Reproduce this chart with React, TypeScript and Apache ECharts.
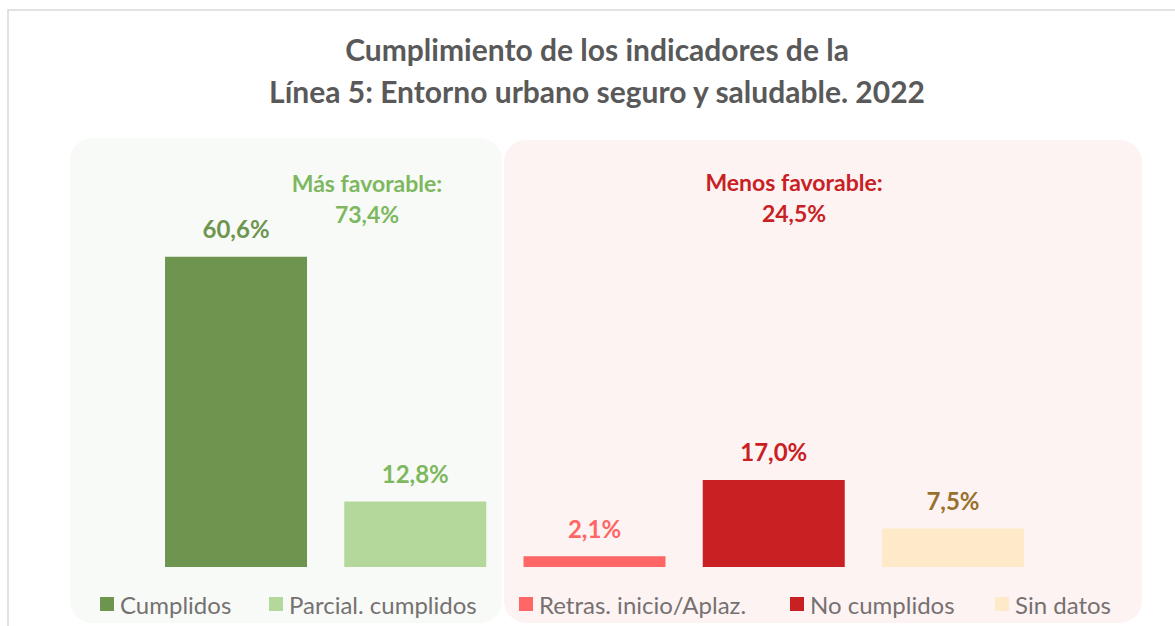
import React, { useEffect, useRef } from "react";
import * as echarts from "echarts";

const categories = ["Cumplidos", "Parcial. cumplidos", "Retras. inicio/Aplaz.", "No cumplidos", "Sin datos"];
const values = [60.6, 12.8, 2.1, 17.0, 7.5];
const barColors = ["#6E9550", "#B4D79B", "#FF6666", "#C82023", "#FEE9C9"];
const labelColors = ["#6E9550", "#7DB85F", "#FF6666", "#C82023", "#98712D"];
const legendLeft = [95, 264, 514, 785, 990];
const groupTitles = ["Más favorable:", "Menos favorable:"];
const groupValues = ["73,4%", "24,5%"];

const FONT = "Lato";

export default function App() {
  const ref = useRef<HTMLDivElement>(null);
  useEffect(() => {
    if (!ref.current) return;
    const chart = echarts.init(ref.current, undefined, { renderer: "svg" });
    const fmt = (v: number) => v.toFixed(1).replace(".", ",") + "%";
    const series = categories.map((name, i) => ({
      name,
      type: "bar",
      stack: "all",
      barWidth: 142,
      itemStyle: { color: barColors[i] },
      label: {
        show: true,
        position: "top",
        distance: 16,
        formatter: (p: any) => fmt(p.value),
        color: labelColors[i],
        fontFamily: FONT,
        fontWeight: "bold",
        fontSize: 24,
      },
      data: categories.map((_, j) => (j === i ? values[i] : "-")),
    }));
    chart.setOption({
      animation: false,
      backgroundColor: "#ffffff",
      title: {
        text: "Cumplimiento de los indicadores de la\nLínea 5: Entorno urbano seguro y saludable. 2022",
        left: 592,
        textAlign: "center",
        top: 23,
        textStyle: {
          fontFamily: FONT,
          fontWeight: "bold",
          fontSize: 30,
          lineHeight: 42,
          color: "#595959",
        },
      },
      legend: categories.map((name, i) => ({
        data: [name],
        left: legendLeft[i],
        top: 587,
        icon: "rect",
        itemWidth: 14,
        itemHeight: 14,
        itemGap: 0,
        selectedMode: false,
        textStyle: { fontFamily: FONT, fontSize: 24, color: "#767171", padding: [0, 0, 0, 1] },
      })),
      grid: { left: 146.4, right: 1175 - 1042.6, top: 208.6, bottom: 59 },
      xAxis: {
        type: "category",
        data: categories,
        show: false,
      },
      yAxis: { type: "value", min: 0, max: 70, show: false },
      graphic: [
        {
          type: "rect",
          z: -20,
          silent: true,
          shape: { x: 8, y: 10, width: 1250, height: 700 },
          style: { fill: "#ffffff", stroke: "#D9D9D9", lineWidth: 1.5 },
        },
        {
          type: "rect",
          z: -10,
          silent: true,
          shape: { x: 70, y: 138, width: 432, height: 485, r: 22 },
          style: { fill: "#F8FAF7" },
        },
        {
          type: "rect",
          z: -10,
          silent: true,
          shape: { x: 504, y: 140, width: 638, height: 483, r: 22 },
          style: { fill: "#FEF3F3" },
        },
        {
          type: "text",
          x: 367,
          y: 198,
          style: {
            text: groupTitles[0] + "\n" + groupValues[0],
            align: "center",
            verticalAlign: "middle",
            fontFamily: FONT,
            fontWeight: "bold",
            fontSize: 23,
            lineHeight: 31,
            fill: "#7DB85F",
          },
        },
        {
          type: "text",
          x: 794,
          y: 197,
          style: {
            text: groupTitles[1] + "\n" + groupValues[1],
            align: "center",
            verticalAlign: "middle",
            fontFamily: FONT,
            fontWeight: "bold",
            fontSize: 23,
            lineHeight: 31,
            fill: "#C82023",
          },
        },
      ],
      series,
    });
    return () => chart.dispose();
  }, []);
  return (
    <div
      ref={ref}
      style={{ position: "fixed", left: 0, top: 0, width: 1175, height: 626 }}
    />
  );
}
